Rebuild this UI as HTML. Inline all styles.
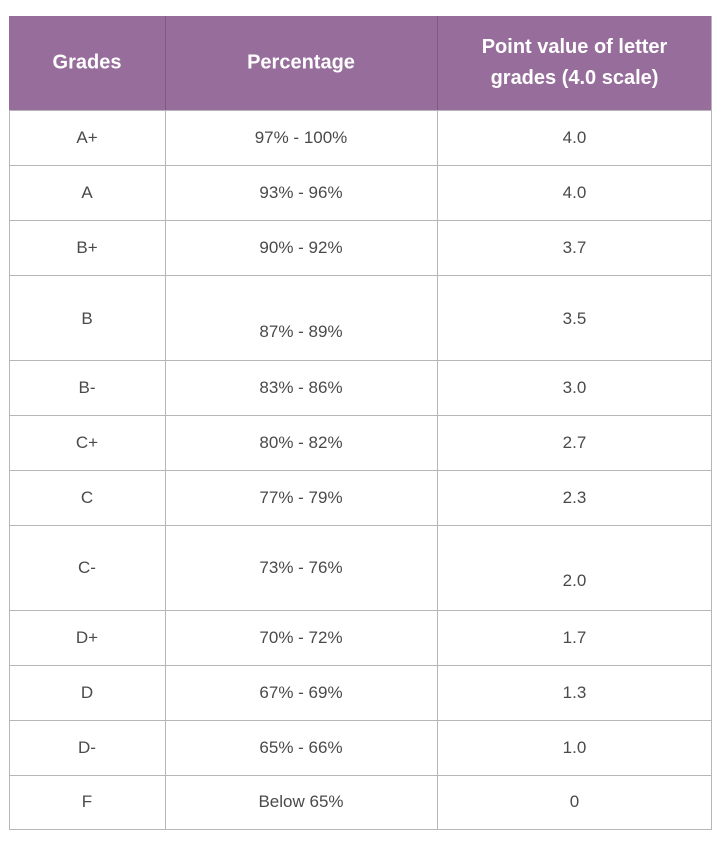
<!DOCTYPE html>
<html><head><meta charset="utf-8"><style>
body{margin:0;width:720px;height:846px;background:#fff;position:relative;font-family:"Liberation Sans",sans-serif;overflow:hidden}
.h{position:absolute;top:16px;height:94px;left:9px;width:703px;background:#976e9b}
.l{position:absolute;background:#b8b4ba}
.t{position:absolute;text-align:center;color:#4a4a4a;font-size:17px;transform:translateY(-50%);line-height:20px}
.w{color:#fff;font-weight:bold;font-size:20px;line-height:31px}
</style></head><body>
<div class="h"></div>
<div class="l" style="left:165px;top:16px;width:1px;height:813px;background:#7e5a82"></div>
<div class="l" style="left:437px;top:16px;width:1px;height:813px;background:#7e5a82"></div>
<div class="l" style="left:165px;top:110px;width:1px;height:719px"></div>
<div class="l" style="left:437px;top:110px;width:1px;height:719px"></div>
<div class="l" style="left:9px;top:110px;width:1px;height:719px"></div>
<div class="l" style="left:711px;top:16px;width:1px;height:813px"></div>
<div class="l" style="left:9px;top:110px;width:703px;height:1px"></div>
<div class="l" style="left:9px;top:165px;width:703px;height:1px"></div>
<div class="l" style="left:9px;top:220px;width:703px;height:1px"></div>
<div class="l" style="left:9px;top:275px;width:703px;height:1px"></div>
<div class="l" style="left:9px;top:360px;width:703px;height:1px"></div>
<div class="l" style="left:9px;top:415px;width:703px;height:1px"></div>
<div class="l" style="left:9px;top:470px;width:703px;height:1px"></div>
<div class="l" style="left:9px;top:525px;width:703px;height:1px"></div>
<div class="l" style="left:9px;top:610px;width:703px;height:1px"></div>
<div class="l" style="left:9px;top:665px;width:703px;height:1px"></div>
<div class="l" style="left:9px;top:720px;width:703px;height:1px"></div>
<div class="l" style="left:9px;top:775px;width:703px;height:1px"></div>
<div class="l" style="left:9px;top:829px;width:703px;height:1px"></div>

<div class="t w" style="left:9px;width:156px;top:63px">Grades</div>
<div class="t w" style="left:165px;width:272px;top:63px">Percentage</div>
<div class="t w" style="left:437px;width:275px;top:63px">Point value of letter<br>grades (4.0 scale)</div>

<div class="t" style="left:9px;width:156px;top:138px">A+</div><div class="t" style="left:165px;width:272px;top:138px">97% - 100%</div><div class="t" style="left:437px;width:275px;top:138px">4.0</div>
<div class="t" style="left:9px;width:156px;top:193px">A</div><div class="t" style="left:165px;width:272px;top:193px">93% - 96%</div><div class="t" style="left:437px;width:275px;top:193px">4.0</div>
<div class="t" style="left:9px;width:156px;top:248px">B+</div><div class="t" style="left:165px;width:272px;top:248px">90% - 92%</div><div class="t" style="left:437px;width:275px;top:248px">3.7</div>
<div class="t" style="left:9px;width:156px;top:319px">B</div><div class="t" style="left:165px;width:272px;top:332px">87% - 89%</div><div class="t" style="left:437px;width:275px;top:319px">3.5</div>
<div class="t" style="left:9px;width:156px;top:388px">B-</div><div class="t" style="left:165px;width:272px;top:388px">83% - 86%</div><div class="t" style="left:437px;width:275px;top:388px">3.0</div>
<div class="t" style="left:9px;width:156px;top:443px">C+</div><div class="t" style="left:165px;width:272px;top:443px">80% - 82%</div><div class="t" style="left:437px;width:275px;top:443px">2.7</div>
<div class="t" style="left:9px;width:156px;top:498px">C</div><div class="t" style="left:165px;width:272px;top:498px">77% - 79%</div><div class="t" style="left:437px;width:275px;top:498px">2.3</div>
<div class="t" style="left:9px;width:156px;top:568px">C-</div><div class="t" style="left:165px;width:272px;top:568px">73% - 76%</div><div class="t" style="left:437px;width:275px;top:581px">2.0</div>
<div class="t" style="left:9px;width:156px;top:638px">D+</div><div class="t" style="left:165px;width:272px;top:638px">70% - 72%</div><div class="t" style="left:437px;width:275px;top:638px">1.7</div>
<div class="t" style="left:9px;width:156px;top:693px">D</div><div class="t" style="left:165px;width:272px;top:693px">67% - 69%</div><div class="t" style="left:437px;width:275px;top:693px">1.3</div>
<div class="t" style="left:9px;width:156px;top:748px">D-</div><div class="t" style="left:165px;width:272px;top:748px">65% - 66%</div><div class="t" style="left:437px;width:275px;top:748px">1.0</div>
<div class="t" style="left:9px;width:156px;top:802px">F</div><div class="t" style="left:165px;width:272px;top:802px">Below 65%</div><div class="t" style="left:437px;width:275px;top:802px">0</div>
</body></html>
